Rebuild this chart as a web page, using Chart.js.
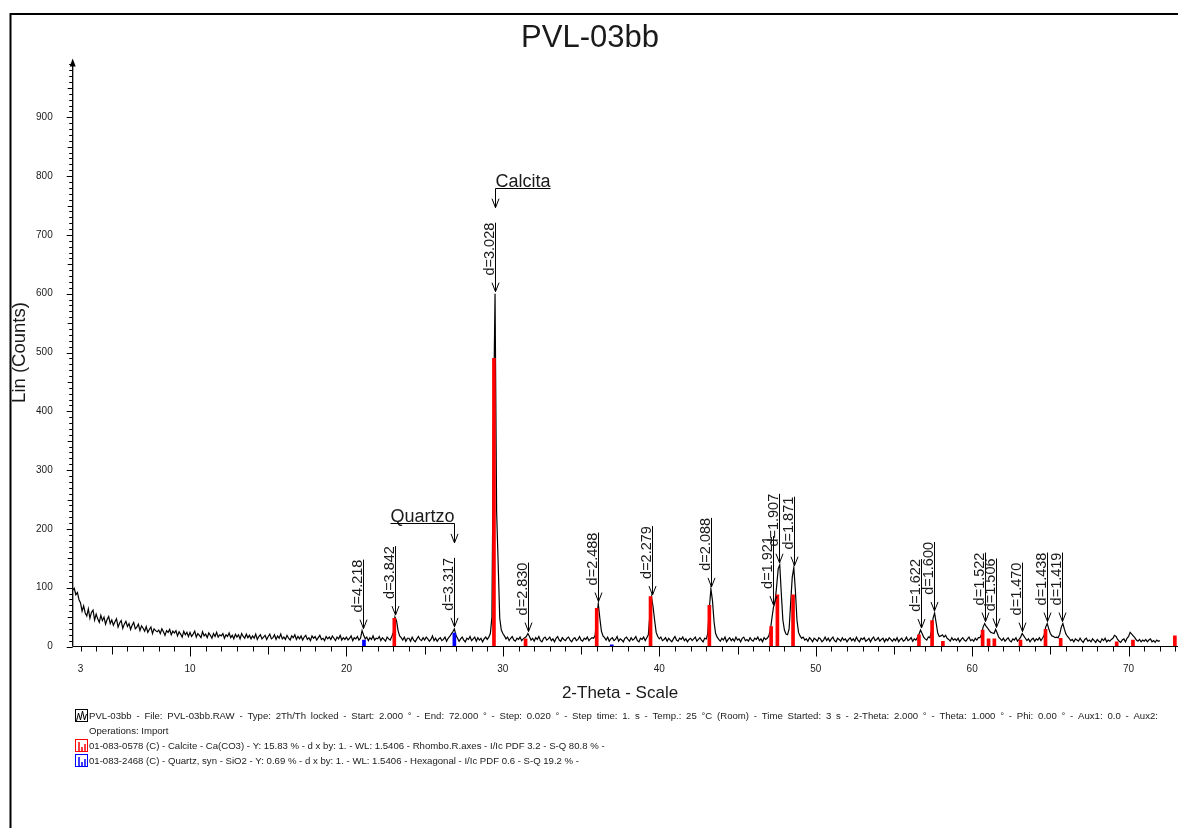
<!DOCTYPE html>
<html>
<head>
<meta charset="utf-8">
<title>PVL-03bb</title>
<script src="https://cdn.jsdelivr.net/npm/chart.js@4.4.1/dist/chart.umd.min.js"></script>
<style>
  html, body { margin: 0; padding: 0; background: #fff; overflow: hidden; }
  canvas { display: block; }
</style>
</head>
<body>
<canvas id="xrd" width="1178" height="828"></canvas>
<script>
// ---- Scan: PVL-03bb, Cu K-alpha, counts every 0.1 deg 2-theta from 2.5 ----
const WAVELENGTH = 1.5406;
const START_2THETA = 2.5;
const STEP_2THETA = 0.1;

const counts = [
  96, 99, 88, 92, 80,                                   // 2.5 - 2.9
  74, 60, 69, 57, 52, 64, 48, 58, 62, 45,               // 3
  55, 47, 41, 53, 44, 50, 38, 46, 51, 39,               // 4
  45, 36, 42, 47, 33, 40, 44, 31, 38, 43,               // 5
  34, 39, 29, 36, 41, 30, 33, 38, 27, 35,               // 6
  31, 26, 34, 24, 29, 33, 22, 30, 27, 25,               // 7
  28, 22, 30, 25, 19, 27, 24, 29, 20, 26,               // 8
  23, 27, 18, 25, 21, 16, 26, 20, 24, 17,               // 9
  24, 17, 21, 26, 16, 22, 19, 15, 25, 18,               // 10
  21, 15, 23, 19, 14, 22, 17, 24, 16, 20,               // 11
  18, 22, 14, 20, 17, 23, 15, 19, 13, 21,               // 12
  16, 20, 13, 22, 17, 14, 21, 15, 19, 13,               // 13
  18, 14, 21, 12, 17, 20, 13, 16, 19, 12,               // 14
  17, 21, 13, 15, 20, 12, 18, 14, 21, 13,               // 15
  16, 12, 19, 14, 11, 18, 15, 20, 12, 17,               // 16
  13, 18, 11, 16, 19, 12, 15, 10, 18, 14,               // 17
  17, 11, 15, 19, 12, 14, 10, 17, 13, 16,               // 18
  12, 18, 14, 10, 16, 13, 19, 11, 15, 12,               // 19
  16, 11, 14, 18, 10, 15, 13, 17, 11, 14,               // 20
  27, 19, 13, 16, 10, 15, 12, 18, 11, 14,               // 21
  13, 17, 10, 15, 12, 9, 16, 13, 11, 17,                // 22
  24, 50, 44, 27, 18, 15, 11, 16, 9, 14,                // 23
  14, 9, 16, 11, 8, 13, 17, 12, 10, 15,                 // 24
  11, 16, 13, 9, 12, 18, 10, 14, 9, 13,                 // 25
  15, 10, 12, 16, 9, 14, 17, 21, 25, 30,                // 26
  19, 14, 9, 13, 16, 11, 8, 14, 12, 17,                 // 27
  10, 13, 16, 9, 15, 11, 14, 8, 13, 16,                 // 28
  12, 16, 22, 50, 390, 600, 230, 140, 48, 28,           // 29
  22, 18, 13, 16, 10, 14, 17, 11, 9, 14,                // 30
  12, 16, 10, 13, 15, 17, 22, 17, 11, 14,               // 31
  9, 15, 12, 17, 10, 8, 14, 16, 11, 13,                 // 32
  16, 10, 13, 8, 14, 17, 11, 9, 15, 12,                 // 33
  10, 14, 16, 11, 8, 13, 15, 10, 12, 17,                // 34
  11, 9, 14, 12, 16, 10, 13, 15, 14, 19,                // 35
  50, 73, 48, 26, 18, 15, 11, 16, 9, 13,                // 36
  15, 10, 12, 17, 9, 13, 11, 8, 14, 16,                 // 37
  12, 9, 15, 11, 13, 17, 10, 8, 14, 12,                 // 38
  16, 10, 15, 20, 55, 84, 68, 45, 24, 17,               // 39
  13, 16, 10, 12, 15, 9, 14, 11, 8, 13,                 // 40
  17, 11, 9, 14, 12, 16, 10, 13, 8, 12,                 // 41
  14, 10, 13, 16, 9, 12, 15, 11, 8, 14,                 // 42
  13, 22, 65, 98, 78, 42, 22, 16, 12, 9,                // 43
  14, 11, 16, 8, 12, 15, 10, 13, 9, 16,                 // 44
  11, 13, 8, 14, 16, 10, 12, 9, 15, 11,                 // 45
  9, 14, 12, 16, 10, 13, 8, 15, 12, 14,                 // 46
  18, 28, 48, 67, 75, 102, 132, 139, 90, 45,            // 47
  28, 21, 20, 30, 75, 118, 134, 95, 45, 24,             // 48
  18, 14, 16, 11, 13, 9, 15, 12, 8, 14,                 // 49
  12, 9, 15, 13, 8, 11, 16, 10, 14, 9,                  // 50
  13, 16, 10, 8, 14, 12, 9, 15, 11, 13,                 // 51
  8, 12, 15, 10, 13, 9, 16, 11, 8, 14,                  // 52
  12, 15, 9, 11, 14, 8, 13, 16, 10, 12,                 // 53
  15, 9, 12, 14, 8, 13, 10, 15, 12, 9,                  // 54
  13, 10, 15, 8, 12, 14, 9, 11, 16, 10,                 // 55
  12, 15, 9, 13, 11, 15, 21, 28, 22, 16,                // 56
  13, 11, 16, 15, 26, 48, 57, 40, 23, 17,               // 57
  18, 20, 16, 19, 14, 12, 9, 15, 11, 13,                // 58
  10, 14, 8, 12, 15, 11, 9, 13, 16, 10,                 // 59
  12, 9, 14, 11, 15, 15, 21, 33, 39, 34,                // 60
  31, 27, 24, 23, 22, 29, 23, 16, 13, 10,               // 61
  14, 9, 12, 15, 10, 8, 13, 11, 15, 9,                  // 62
  12, 16, 22, 18, 14, 10, 13, 8, 12, 14,                // 63
  9, 13, 11, 15, 10, 14, 19, 33, 39, 30,                // 64
  22, 18, 17, 15, 16, 15, 21, 33, 39, 29,               // 65
  21, 17, 14, 10, 12, 8, 13, 11, 9, 14,                 // 66
  10, 7, 12, 14, 9, 11, 8, 13, 10, 7,                   // 67
  12, 9, 7, 13, 10, 14, 8, 11, 9, 12,                   // 68
  14, 19, 17, 12, 9, 7, 11, 13, 8, 14,                  // 69
  17, 24, 21, 18, 15, 11, 9, 12, 8, 11,                 // 70
  9, 12, 8, 11, 13, 8, 10, 7, 11, 9,                    // 71
  10                                                    // 72.0
];

// ---- Reference patterns (stick positions in deg 2-theta, heights in counts) ----
const calciteAngles = [23.06, 29.43, 31.45, 36.00, 39.44, 43.20, 47.15, 47.55, 48.55, 56.60, 57.44,
                       58.13, 60.67, 61.05, 61.42, 63.09, 64.69, 65.66, 69.24, 70.28, 72.96];
const calciteCounts = [48, 490, 13, 65, 85, 70, 34, 88, 88, 20, 44,
                       9, 28, 13, 13, 11, 29, 14, 8, 11, 18];
const quartzAngles = [21.12, 26.90, 36.96];
const quartzCounts = [11, 23, 3];

// ---- Peak labels (d-spacings in angstrom) and phase labels ----
const peakSpacings = [4.218, 3.842, 3.317, 3.028, 2.830, 2.488, 2.279, 2.088, 1.921, 1.907,
                      1.871, 1.622, 1.600, 1.522, 1.506, 1.470, 1.438, 1.419];
const phaseNames = ['Calcita', 'Quartzo'];
const phaseSpacings = [3.028, 3.317];
const phaseAligns = ['left', 'right'];

// ---- Axis ticks and texts ----
const xTickLabels = [3, 10, 20, 30, 40, 50, 60, 70];
const yTickLabels = [0, 100, 200, 300, 400, 500, 600, 700, 800, 900];
const chartTitle = 'PVL-03bb';
const xTitle = '2-Theta - Scale';
const yTitle = 'Lin (Counts)';
const legendLines = [
  'PVL-03bb - File: PVL-03bb.RAW - Type: 2Th/Th locked - Start: 2.000 \u00b0 - End: 72.000 \u00b0 - Step: 0.020 \u00b0 - Step time: 1. s - Temp.: 25 \u00b0C (Room) - Time Started: 3 s - 2-Theta: 2.000 \u00b0 - Theta: 1.000 \u00b0 - Phi: 0.00 \u00b0 - Aux1: 0.0 - Aux2:',
  'Operations: Import',
  '01-083-0578 (C) - Calcite - Ca(CO3) - Y: 15.83 % - d x by: 1. - WL: 1.5406 - Rhombo.R.axes - I/Ic PDF 3.2 - S-Q 80.8 % -',
  '01-083-2468 (C) - Quartz, syn - SiO2 - Y: 0.69 % - d x by: 1. - WL: 1.5406 - Hexagonal - I/Ic PDF 0.6 - S-Q 19.2 % -'
];
const legendJustified = [true, false, false, false];

// ---- Derived series ----
const scanPoints = counts.map((c, i) => ({ x: Math.round((START_2THETA + i * STEP_2THETA) * 100) / 100, y: c }));
const calcitePoints = calciteAngles.map((a, i) => ({ x: a, y: calciteCounts[i] }));
const quartzPoints = quartzAngles.map((a, i) => ({ x: a, y: quartzCounts[i] }));

// Bragg's law: d-spacing -> 2-theta
const twoThetaFromD = d => 2 * Math.asin(WAVELENGTH / (2 * d)) * 180 / Math.PI;
// Highest measured count next to a given angle
const apexCounts = tt => Math.max(...scanPoints.filter(p => Math.abs(p.x - tt) <= 0.06).map(p => p.y));

const FONT = "'Liberation Sans', Arial, Helvetica, sans-serif";
const INK = '#000';
const TEXT = '#1a1a1a';
const LINE_LEN = 69;
const TIP_GAP = 2;
const LEGEND_X = 89;
const LEGEND_WIDTH = 1069;

function arrowHead(ctx, x, tip) {
  ctx.beginPath();
  ctx.moveTo(x - 3.5, tip - 9);
  ctx.lineTo(x, tip);
  ctx.lineTo(x + 3.5, tip - 9);
  ctx.stroke();
}

// Paragraph line spread across the full legend width
function fillJustified(ctx, text, x, y, width) {
  const words = text.split(' ');
  const sum = words.reduce((s, w) => s + ctx.measureText(w).width, 0);
  const gap = (width - sum) / (words.length - 1);
  let cx = x;
  words.forEach(w => { ctx.fillText(w, cx, y); cx += ctx.measureText(w).width + gap; });
}

const decor = {
  id: 'xrdDecor',
  beforeDraw(chart) {
    const ctx = chart.ctx;
    ctx.save();
    ctx.fillStyle = '#fff';
    ctx.fillRect(0, 0, chart.width, chart.height);
    ctx.strokeStyle = INK;
    ctx.lineWidth = 2;
    ctx.strokeRect(10.5, 14, chart.width + 40, chart.height + 40);
    ctx.restore();
  },
  afterDatasetsDraw(chart) {
    const ctx = chart.ctx;
    const xs = chart.scales.x, ys = chart.scales.y;
    const x0 = xs.left, y0 = ys.getPixelForValue(0);
    ctx.save();
    ctx.strokeStyle = INK;
    ctx.fillStyle = TEXT;

    // axes
    ctx.lineWidth = 1;
    ctx.beginPath(); ctx.moveTo(x0, y0); ctx.lineTo(xs.right, y0); ctx.stroke();
    ctx.lineWidth = 1.3;
    ctx.beginPath(); ctx.moveTo(x0, y0); ctx.lineTo(x0, ys.top + 4); ctx.stroke();
    ctx.beginPath();
    ctx.moveTo(x0, ys.top);
    ctx.lineTo(x0 + 3, ys.top + 8);
    ctx.lineTo(x0 - 3, ys.top + 8);
    ctx.closePath();
    ctx.fillStyle = INK; ctx.fill();

    // x ticks
    ctx.lineWidth = 1;
    for (let t = 3; t <= xs.max; t++) {
      const len = t % 10 === 0 ? 10 : (t % 5 === 0 ? 8 : 5);
      const x = Math.round(xs.getPixelForValue(t)) + 0.5;
      ctx.beginPath(); ctx.moveTo(x, y0); ctx.lineTo(x, y0 + len); ctx.stroke();
    }
    // y ticks
    for (let v = 0; v < ys.max; v += 10) {
      const len = v % 100 === 0 ? 6 : (v % 50 === 0 ? 5 : 3.5);
      const y = Math.round(ys.getPixelForValue(v)) + 0.5;
      ctx.beginPath(); ctx.moveTo(x0 - len, y); ctx.lineTo(x0, y); ctx.stroke();
    }

    // tick labels
    ctx.fillStyle = TEXT;
    ctx.font = '10px ' + FONT;
    ctx.textAlign = 'center'; ctx.textBaseline = 'middle';
    xTickLabels.forEach(t => ctx.fillText(String(t), xs.getPixelForValue(t), y0 + 23));
    ctx.textAlign = 'right';
    yTickLabels.forEach(v => ctx.fillText(String(v), x0 - 20, ys.getPixelForValue(v)));

    // axis titles and chart title
    ctx.textAlign = 'center';
    ctx.font = '17px ' + FONT;
    ctx.fillText(xTitle, 620, 693);
    ctx.save();
    ctx.translate(20, (ys.top + ys.bottom) / 2);
    ctx.rotate(-Math.PI / 2);
    ctx.font = '18.5px ' + FONT;
    ctx.fillText(yTitle, 0, 0);
    ctx.restore();
    ctx.font = '31px ' + FONT;
    ctx.fillText(chartTitle, 590, 38);

    // peak markers
    ctx.lineWidth = 1;
    ctx.strokeStyle = INK;
    peakSpacings.forEach(d => {
      const tt = twoThetaFromD(d);
      const x = Math.round(xs.getPixelForValue(tt)) + 0.5;
      const tip = ys.getPixelForValue(apexCounts(tt)) - TIP_GAP;
      const top = tip - LINE_LEN;
      ctx.beginPath(); ctx.moveTo(x, top); ctx.lineTo(x, tip); ctx.stroke();
      arrowHead(ctx, x, tip);
      ctx.save();
      ctx.translate(x - 2, top);
      ctx.rotate(-Math.PI / 2);
      ctx.font = '14.5px ' + FONT;
      ctx.textAlign = 'right';
      ctx.textBaseline = 'alphabetic';
      ctx.fillStyle = TEXT;
      ctx.fillText('d=' + d.toFixed(3), 0, 0);
      ctx.restore();
    });

    // phase labels
    phaseNames.forEach((name, i) => {
      const tt = twoThetaFromD(phaseSpacings[i]);
      const x = Math.round(xs.getPixelForValue(tt)) + 0.5;
      const dTop = ys.getPixelForValue(apexCounts(tt)) - TIP_GAP - LINE_LEN;
      const tip = dTop - 15;
      const ul = Math.round(tip - 19.5) + 0.5;
      ctx.font = '18px ' + FONT;
      const w = ctx.measureText(name).width;
      const xl = phaseAligns[i] === 'left' ? x : x - w;
      ctx.textAlign = 'left';
      ctx.textBaseline = 'alphabetic';
      ctx.fillStyle = TEXT;
      ctx.fillText(name, xl, ul - 1.5);
      ctx.beginPath(); ctx.moveTo(xl, ul); ctx.lineTo(xl + w, ul); ctx.stroke();
      ctx.beginPath(); ctx.moveTo(x, ul); ctx.lineTo(x, tip); ctx.stroke();
      arrowHead(ctx, x, tip);
    });

    // legend
    const ly = [716, 731, 746, 761];
    ctx.font = '9.6px ' + FONT;
    ctx.textAlign = 'left';
    ctx.textBaseline = 'middle';
    ctx.fillStyle = TEXT;
    legendLines.forEach((s, i) => {
      if (legendJustified[i]) fillJustified(ctx, s, LEGEND_X, ly[i], LEGEND_WIDTH);
      else ctx.fillText(s, LEGEND_X, ly[i]);
    });
    // scan icon
    ctx.lineWidth = 1;
    ctx.strokeStyle = INK;
    ctx.strokeRect(75.5, 709.5, 12, 12);
    ctx.beginPath();
    ctx.moveTo(76.5, 721); ctx.lineTo(78.5, 713); ctx.lineTo(80.5, 720);
    ctx.lineTo(82.5, 711); ctx.lineTo(84.5, 720); ctx.lineTo(86.5, 714);
    ctx.stroke();
    // reference pattern icons
    [['#ff0000', ly[2]], ['#0000ff', ly[3]]].forEach(([c, y]) => {
      ctx.strokeStyle = c;
      ctx.strokeRect(75.5, y - 6.5, 12, 12);
      ctx.lineWidth = 1.5;
      ctx.beginPath();
      ctx.moveTo(79, y - 4); ctx.lineTo(79, y + 5.5);
      ctx.moveTo(82, y + 1); ctx.lineTo(82, y + 5.5);
      ctx.moveTo(85, y - 2); ctx.lineTo(85, y + 5.5);
      ctx.stroke();
      ctx.lineWidth = 1;
    });
    ctx.restore();
  }
};

new Chart(document.getElementById('xrd'), {
  type: 'line',
  data: {
    datasets: [
      {
        type: 'bar', label: 'Quartz, syn', data: quartzPoints, order: 1,
        backgroundColor: '#0000ff', borderWidth: 0, barThickness: 3, grouped: false
      },
      {
        type: 'bar', label: 'Calcite', data: calcitePoints, order: 2,
        backgroundColor: '#ff0000', borderWidth: 0, barThickness: 3, grouped: false
      },
      {
        type: 'line', label: 'PVL-03bb', data: scanPoints, order: 3,
        borderColor: '#000', borderWidth: 1.2, pointRadius: 0, tension: 0, fill: false
      }
    ]
  },
  options: {
    responsive: false,
    devicePixelRatio: 1,
    animation: false,
    events: [],
    layout: { padding: { left: 72.7, right: 0, top: 58.5, bottom: 181.5 } },
    scales: {
      x: { type: 'linear', min: 2.5, max: 73.16, offset: false, display: false },
      y: { type: 'linear', min: 0, max: 1000, display: false }
    },
    plugins: { legend: { display: false }, tooltip: { enabled: false }, title: { display: false } }
  },
  plugins: [decor]
});
</script>
</body>
</html>
